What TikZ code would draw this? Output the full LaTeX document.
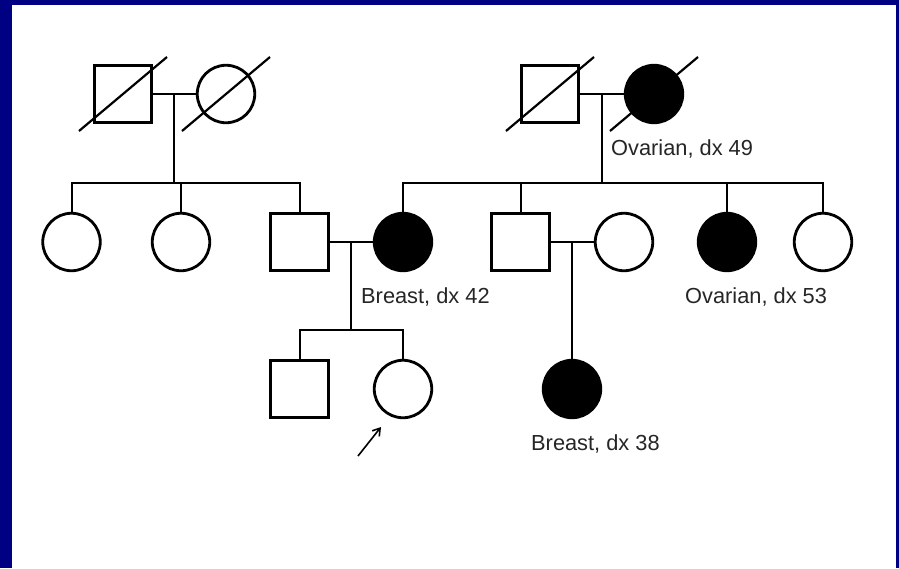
\documentclass[tikz,border=0pt]{standalone}
\usepackage{fontspec}
\setmainfont{Liberation Sans}
\usetikzlibrary{arrows.meta}
\definecolor{frameblue}{RGB}{0,0,130}
\begin{document}
\begin{tikzpicture}[x=1pt,y=-1pt,
  male/.style={draw,line width=2.8pt,rectangle,minimum size=57.5pt,inner sep=0pt,fill=white},
  female/.style={draw,line width=2.8pt,circle,minimum size=57.5pt,inner sep=0pt,fill=white},
  affected/.style={fill=black},
  link/.style={line width=2pt},
  deceased/.style={line width=2.2pt},
  lbl/.style={anchor=base west,inner sep=0pt,font=\fontsize{21.8}{26}\selectfont,text=black!85}]
\useasboundingbox (0,0) rectangle (899,568);
\fill[frameblue] (0,0) rectangle (899,568);
\fill[white] (12,5) rectangle (896,568);

% generation I
\node[male] (f1) at (123,94) {};
\node[female] (m1) at (226,94) {};
\node[male] (f2) at (550,94) {};
\node[female,affected] (m2) at (654,94) {};

% generation II
\node[female] (c1) at (71.5,242) {};
\node[female] (c2) at (181,242) {};
\node[male] (s3) at (299.5,242) {};
\node[female,affected] (w) at (403,242) {};
\node[male] (s4) at (520.5,242) {};
\node[female] (sp) at (624,242) {};
\node[female,affected] (a3) at (727,242) {};
\node[female] (c6) at (823,242) {};

% generation III
\node[male] (g1) at (299.5,389) {};
\node[female] (pr) at (403,389) {};
\node[female,affected] (g3) at (572,389) {};

% labels
\node[lbl] (t1) at (611,155) {Ovarian, dx 49};
\node[lbl] (t2) at (361,303) {Breast, dx 42};
\node[lbl] (t3) at (685,303) {Ovarian, dx 53};
\node[lbl] (t4) at (531,450) {Breast, dx 38};

% junction coordinates
\coordinate (j1) at (174,94);
\coordinate (k1) at (174,183);
\coordinate (j2) at (602,94);
\coordinate (k2) at (602,183);
\coordinate (j3) at (351,242);
\coordinate (k3) at (351,330);
\coordinate (j4) at (572,242);

% deceased slashes
\draw[deceased] ([shift={(-44,37)}]f1.center) -- ([shift={(44,-37)}]f1.center);
\draw[deceased] ([shift={(-44,37)}]m1.center) -- ([shift={(44,-37)}]m1.center);
\draw[deceased] ([shift={(-44,37)}]f2.center) -- ([shift={(44,-37)}]f2.center);
\draw[deceased] ([shift={(-44,37)}]m2.center) -- ([shift={(44,-37)}]m2.center);

% left family
\draw[link] (f1.east) -- (m1.west);
\draw[link] (j1) -- (k1);
\draw[link] (c1.north) |- (k1) -| (s3.north);
\draw[link] (c2.north) -- (c2.north |- k1);

% right family
\draw[link] (f2.east) -- (m2.west);
\draw[link] (j2) -- (k2);
\draw[link] (w.north) |- (k2) -| (c6.north);
\draw[link] (s4.north) -- (s4.north |- k2);
\draw[link] (a3.north) -- (a3.north |- k2);

% generation II couples
\draw[link] (s3.east) -- (w.west);
\draw[link] (j3) -- (k3);
\draw[link] (g1.north) |- (k3) -| (pr.north);
\draw[link] (s4.east) -- (sp.west);
\draw[link] (j4) -- (g3.north);

% proband arrow
\coordinate (ar) at (358,456);
\draw[line width=1.6pt,-{Straight Barb[length=7pt,width=9pt]}] (ar) -- ([shift={(-22,38)}]pr.center);
\end{tikzpicture}
\end{document}
